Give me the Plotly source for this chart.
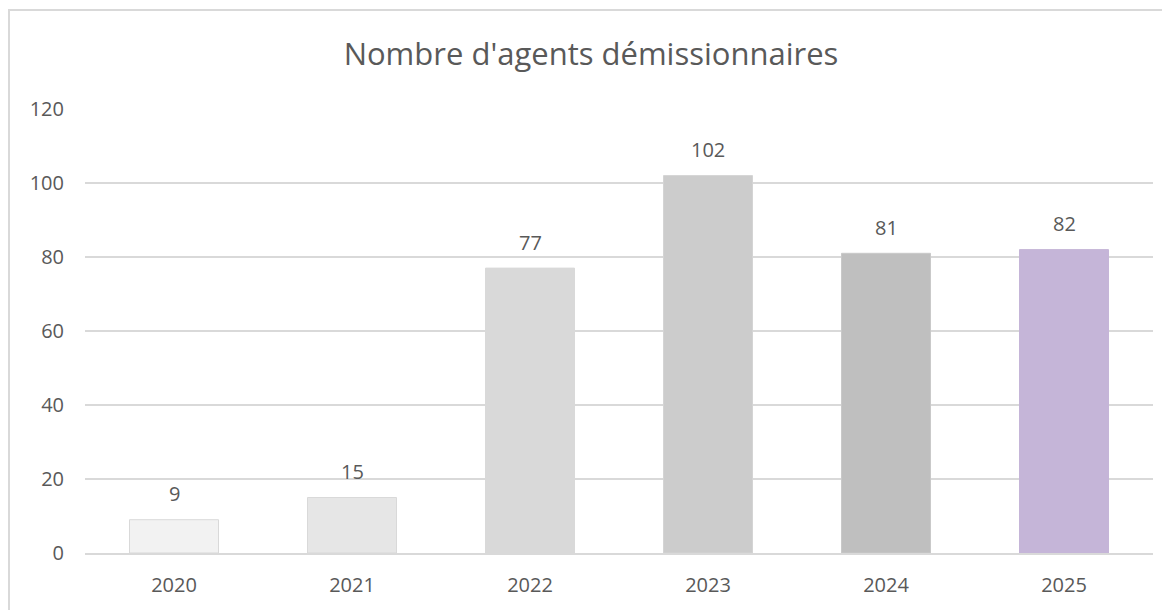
import plotly.graph_objects as go

years = ["2020", "2021", "2022", "2023", "2024", "2025"]
demissions = [9, 15, 77, 102, 81, 82]
bar_colors = ["#f2f2f2", "#e6e6e6", "#d9d9d9", "#cccccc", "#bfbfbf", "#c5b5d8"]
edge_colors = ["#d9d9d9", "#d9d9d9", "#d9d9d9", "#d4d4d4", "#c9c9c9", "#c5b5d8"]
y_ticks = [0, 20, 40, 60, 80, 100, 120]

TEXT = "#595959"
FONT = "Open Sans"

# page body has an 8px margin, so the figure is drawn slightly smaller
W, H = 1162, 602
L, R, T, B = 77, 17, 101, 57
plot_w = W - L - R
plot_h = H - T - B

fig = go.Figure()

fig.add_trace(
    go.Bar(
        x=years,
        y=demissions,
        width=0.5,
        marker=dict(color=bar_colors, line=dict(color=edge_colors, width=1)),
        hoverinfo="x+y",
    )
)

# data labels above the bars (x as category index: "2020" would be read as a number)
for i, v in enumerate(demissions):
    fig.add_annotation(
        x=i,
        y=v,
        text=str(v),
        showarrow=False,
        yanchor="middle",
        yshift=26,
        font=dict(family=FONT, size=20, color=TEXT),
    )

# chart frame
fig.add_shape(
    type="rect",
    xref="paper",
    yref="paper",
    x0=(1 - L) / plot_w,
    x1=(W + 10 - L) / plot_w,
    y0=-0.3,
    y1=(plot_h + T - 2) / plot_h,
    line=dict(color="#d9d9d9", width=2),
    fillcolor="rgba(0,0,0,0)",
    layer="below",
)

fig.update_layout(
    width=W,
    height=H,
    margin=dict(l=L, r=R, t=T, b=B),
    paper_bgcolor="white",
    plot_bgcolor="white",
    showlegend=False,
    font=dict(family=FONT, color=TEXT, size=20),
    title=dict(
        text="Nombre d'agents démissionnaires",
        x=583 / W,
        xanchor="center",
        y=1 - 46 / H,
        yanchor="middle",
        font=dict(family=FONT, size=31, color=TEXT),
    ),
    xaxis=dict(
        type="category",
        range=[-0.5, len(years) - 0.5],
        showgrid=False,
        showline=True,
        linecolor="#d9d9d9",
        linewidth=2,
        ticks="",
        ticklabelstandoff=13,
        tickfont=dict(family=FONT, size=20, color=TEXT),
        fixedrange=True,
    ),
    yaxis=dict(
        range=[0, 120],
        tickvals=y_ticks,
        showgrid=True,
        gridcolor="#d9d9d9",
        gridwidth=2,
        zeroline=False,
        showline=False,
        ticks="",
        ticklabelstandoff=20,
        tickfont=dict(family=FONT, size=20, color=TEXT),
        fixedrange=True,
    ),
)

fig.write_html("out.html", config={"displayModeBar": False})
